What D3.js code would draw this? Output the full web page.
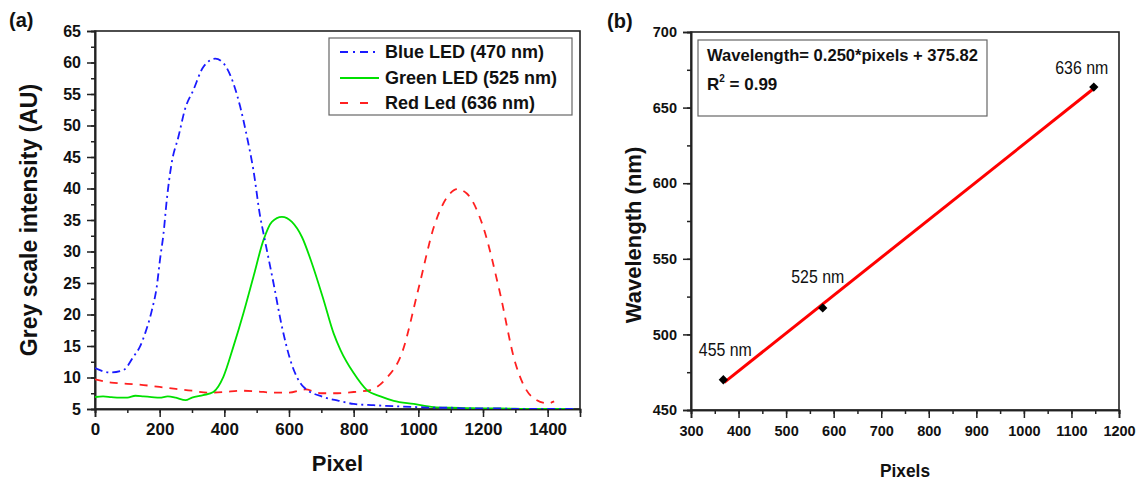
<!DOCTYPE html>
<html><head><meta charset="utf-8">
<script src="https://cdn.jsdelivr.net/npm/d3@7"></script>
<style>
body{margin:0;background:#fff;}
text{font-family:"Liberation Sans",Arial,sans-serif;}
</style></head>
<body>
<svg id="chart" width="1139" height="481"></svg>
<script>
// ---------- Panel (a) data ----------
const pixelsBlue  = [0,46,88,119,139,155,176,191,201,212,222,237,258,279,304,335,372,397,428,449,470,490,511,521,552,578,604,645,707,754,800,862,945,1000,1050,1100,1150,1200,1250,1300,1350,1400,1450,1480];
const blueValues  = [11.5,10.8,11.2,13.3,14.9,17.0,20.7,24.4,28.7,32.9,38.2,44.0,48.2,52.7,55.6,59.3,60.6,59.9,56.7,53.0,48.2,42.9,35.5,32.9,25.0,18.1,12.8,8.5,6.9,6.3,5.8,5.6,5.4,5.3,5.2,5.2,5.1,5.1,5.1,5.0,5.0,5.0,5.0,5.0];
const pixelsGreen = [0,25,50,75,100,125,150,175,200,225,250,280,300,335,366,397,428,459,490,521,547,578,609,640,671,707,738,759,800,841,883,924,986,1048,1100,1150,1200,1250,1300,1350,1400,1450,1480];
const greenValues = [6.9,7.0,6.9,6.8,6.8,7.1,7.0,6.9,6.8,7.0,6.8,6.4,6.8,7.2,7.7,10.1,14.9,20.2,26.0,31.8,34.7,35.5,34.7,32.3,28.1,22.3,17.0,14.4,10.7,8.0,7.0,6.3,5.8,5.3,5.2,5.15,5.1,5.1,5.05,5.0,5.0,5.0,5.0];
const pixelsRed   = [0,50,100,150,200,250,300,350,400,450,500,550,600,650,700,750,800,850,900,950,1000,1050,1100,1120,1150,1200,1250,1300,1350,1400,1420];
const redValues   = [9.7,9.2,9.0,8.8,8.5,8.2,7.9,7.6,7.7,7.9,7.8,7.6,7.6,8.1,7.5,7.5,7.7,8.0,9.8,14.0,24.0,34.2,39.3,39.9,39.2,34.0,24.0,12.3,7.0,5.9,6.2];
const seriesNames = ["Blue LED (470 nm)","Green LED (525 nm)","Red Led (636 nm)"];
const seriesColors = ["#1a1aff","#00e000","#ff2020"];
const xTicksA = [0,200,400,600,800,1000,1200,1400];
const yTicksA = [5,10,15,20,25,30,35,40,45,50,55,60,65];

// ---------- Panel (b) data ----------
const calibPixels = [368,577,1147];
const calibWavelength = [470,517.5,663.6];
const calibLabels = ["455 nm","525 nm","636 nm"];
const fitPixels = [370,1147];
const fitWavelength = [468.3,662.6];
const xTicksB = [300,400,500,600,700,800,900,1000,1100,1200];
const yTicksB = [450,500,550,600,650,700];
const fitText = ["Wavelength= 0.250*pixels + 375.82","R","2"," = 0.99"];

const svg = d3.select("#chart");

// ================= Panel (a) =================
const A = {l:95, r:580, t:31, b:409};
const xA = d3.scaleLinear().domain([0,1500]).range([A.l,A.r]);
const yA = d3.scaleLinear().domain([5,65]).range([A.b,A.t]);
const gA = svg.append("g");

gA.append("rect").attr("x",A.l).attr("y",A.t).attr("width",A.r-A.l).attr("height",A.b-A.t)
  .attr("fill","none").attr("stroke","#222").attr("stroke-width",1.6);

const xMinorA = d3.range(0,1501,100);
const yMinorA = d3.range(5,65.1,2.5);
const axXA = gA.append("g").attr("transform",`translate(0,${A.b})`)
  .call(d3.axisBottom(xA).tickValues(xMinorA).tickSize(4).tickFormat(""));
const axYA = gA.append("g").attr("transform",`translate(${A.l},0)`)
  .call(d3.axisLeft(yA).tickValues(yMinorA).tickSize(4).tickFormat(""));
const axXA2 = gA.append("g").attr("transform",`translate(0,${A.b})`)
  .call(d3.axisBottom(xA).tickValues(xTicksA).tickSize(8).tickPadding(6).tickFormat(d3.format("d")));
const axYA2 = gA.append("g").attr("transform",`translate(${A.l},0)`)
  .call(d3.axisLeft(yA).tickValues(yTicksA).tickSize(8).tickPadding(6).tickFormat(d3.format("d")));
[axXA,axYA,axXA2,axYA2].forEach(a=>{
  a.select(".domain").attr("stroke","#222").attr("stroke-width",1.6);
  a.selectAll(".tick line").attr("stroke","#222").attr("stroke-width",1.5);
  a.selectAll(".tick text").attr("fill","#111").style("font-size","16px").style("font-weight","bold");
});
axXA2.selectAll(".tick text").style("font-size","17px");

const lineA = d3.line().x(d=>xA(d[0])).y(d=>yA(d[1])).curve(d3.curveMonotoneX);
const dataA = [
  d3.zip(pixelsBlue,blueValues),
  d3.zip(pixelsGreen,greenValues),
  d3.zip(pixelsRed,redValues)
];
const dashes = ["8,4,2,4",null,"8,7"];
gA.append("clipPath").attr("id","clipA").append("rect")
  .attr("x",A.l).attr("y",A.t).attr("width",A.r-A.l).attr("height",A.b-A.t);
[2,1,0].forEach(i=>{
  gA.append("path").datum(dataA[i]).attr("d",lineA)
    .attr("fill","none").attr("stroke",seriesColors[i]).attr("stroke-width",1.8)
    .attr("stroke-dasharray",dashes[i]).attr("clip-path","url(#clipA)");
});

// legend
const leg = gA.append("g");
leg.append("rect").attr("x",329).attr("y",38).attr("width",243).attr("height",77)
  .attr("fill","#fff").attr("stroke","#666").attr("stroke-width",1.2);
const legY = [52,78,103];
const legDash = ["8,5,2,5",null,"8,12"];
seriesNames.forEach((n,i)=>{
  leg.append("line").attr("x1",340).attr("x2",379).attr("y1",legY[i]).attr("y2",legY[i])
    .attr("stroke",seriesColors[i]).attr("stroke-width",1.8).attr("stroke-dasharray",legDash[i]);
  leg.append("text").attr("x",385).attr("y",legY[i]+6).text(n)
    .style("font-size","18px").style("font-weight","bold").attr("fill","#111");
});

gA.append("text").attr("x",(A.l+A.r)/2).attr("y",471).attr("text-anchor","middle")
  .text("Pixel").style("font-size","22px").style("font-weight","bold").attr("fill","#111");
gA.append("text").attr("transform",`translate(37,${(A.t+A.b)/2}) rotate(-90)`).attr("text-anchor","middle")
  .text("Grey scale intensity (AU)").style("font-size","23px").style("font-weight","bold").attr("fill","#111");
gA.append("text").attr("x",9).attr("y",27).text("(a)").style("font-size","20px").style("font-weight","bold").attr("fill","#111");

// ================= Panel (b) =================
const B = {l:691, r:1119, t:32, b:410};
const xB = d3.scaleLinear().domain([300,1200]).range([B.l,B.r]);
const yB = d3.scaleLinear().domain([450,700]).range([B.b,B.t]);
const gB = svg.append("g");
gB.append("rect").attr("x",B.l).attr("y",B.t).attr("width",B.r-B.l).attr("height",B.b-B.t)
  .attr("fill","none").attr("stroke","#222").attr("stroke-width",1.6);
const axXB = gB.append("g").attr("transform",`translate(0,${B.b})`)
  .call(d3.axisBottom(xB).tickValues(d3.range(300,1201,50)).tickSize(4).tickFormat(""));
const axYB = gB.append("g").attr("transform",`translate(${B.l},0)`)
  .call(d3.axisLeft(yB).tickValues(d3.range(450,701,25)).tickSize(4).tickFormat(""));
const axXB2 = gB.append("g").attr("transform",`translate(0,${B.b})`)
  .call(d3.axisBottom(xB).tickValues(xTicksB).tickSize(8).tickPadding(8).tickFormat(d3.format("d")));
const axYB2 = gB.append("g").attr("transform",`translate(${B.l},0)`)
  .call(d3.axisLeft(yB).tickValues(yTicksB).tickSize(8).tickPadding(6).tickFormat(d3.format("d")));
[axXB,axYB,axXB2,axYB2].forEach(a=>{
  a.select(".domain").attr("stroke","#222").attr("stroke-width",1.6);
  a.selectAll(".tick line").attr("stroke","#222").attr("stroke-width",1.5);
  a.selectAll(".tick text").attr("fill","#111").style("font-size","14.5px").style("font-weight","bold");
});

gB.append("path").datum(d3.zip(fitPixels,fitWavelength))
  .attr("d",d3.line().x(d=>xB(d[0])).y(d=>yB(d[1])))
  .attr("fill","none").attr("stroke","#ff0000").attr("stroke-width",3);
gB.selectAll("path.pt").data(d3.zip(calibPixels,calibWavelength)).join("path").attr("class","pt")
  .attr("d",d3.symbol(d3.symbolDiamond2,55))
  .attr("transform",d=>`translate(${xB(d[0])},${yB(d[1])})`).attr("fill","#000");
const lblDx = [2,-5,-12];
const lblDy = [-24,-25,-13];
calibLabels.forEach((t,i)=>{
  gB.append("text").attr("x",xB(calibPixels[i])+lblDx[i]).attr("y",yB(calibWavelength[i])+lblDy[i])
    .attr("text-anchor","middle").text(t).style("font-size","18px").attr("fill","#111")
    .attr("textLength",53).attr("lengthAdjust","spacingAndGlyphs");
});

gB.append("rect").attr("x",698).attr("y",40).attr("width",289).attr("height",76)
  .attr("fill","#fff").attr("stroke","#666").attr("stroke-width",1.2);
gB.append("text").attr("x",707).attr("y",61).text(fitText[0])
  .style("font-size","17px").style("font-weight","bold").attr("fill","#111")
  .attr("textLength",271).attr("lengthAdjust","spacingAndGlyphs");
const r2 = gB.append("text").attr("x",707).attr("y",90).style("font-size","17px").style("font-weight","bold").attr("fill","#111");
r2.append("tspan").text(fitText[1]);
r2.append("tspan").attr("dy",-8).style("font-size","10px").text(fitText[2]);
r2.append("tspan").attr("dy",8).text(fitText[3]);

gB.append("text").attr("x",905).attr("y",477).attr("text-anchor","middle").text("Pixels")
  .style("font-size","19px").style("font-weight","bold").attr("fill","#111")
  .attr("textLength",50).attr("lengthAdjust","spacingAndGlyphs");
gB.append("text").attr("transform",`translate(641,235) rotate(-90)`).attr("text-anchor","middle")
  .text("Wavelength (nm)").style("font-size","22px").style("font-weight","bold").attr("fill","#111");
gB.append("text").attr("x",607).attr("y",28).text("(b)").style("font-size","20px").style("font-weight","bold").attr("fill","#111");
</script>
</body></html>
